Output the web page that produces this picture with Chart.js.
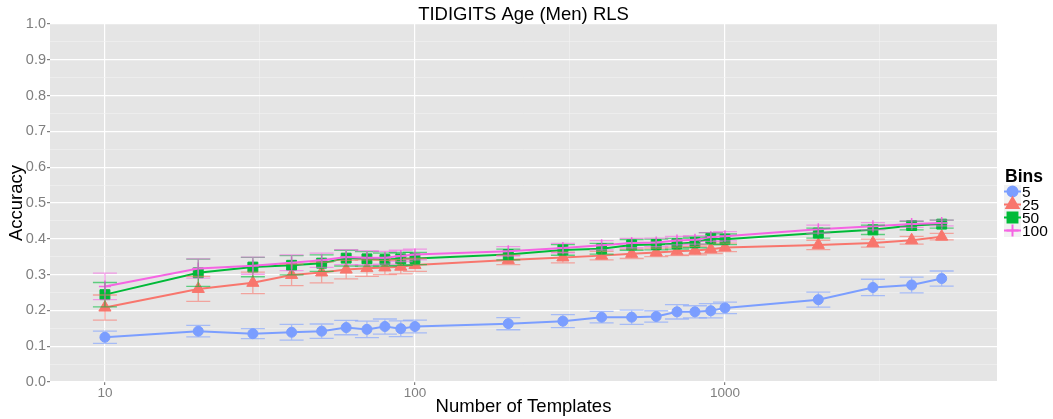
<!DOCTYPE html>
<html>
<head>
<meta charset="utf-8">
<script src="https://cdn.jsdelivr.net/npm/chart.js@4.4.1/dist/chart.umd.min.js"></script>
<style>
  html, body { margin: 0; padding: 0; background: #fff; }
  #wrap { width: 1053px; height: 419px; }
</style>
</head>
<body>
<div id="wrap"><canvas id="chart" width="1053" height="419"></canvas></div>
<script>
const templates = [10, 20, 30, 40, 50, 60, 70, 80, 90, 100, 200, 300, 400, 500, 600, 700, 800, 900, 1000, 2000, 3000, 4000, 5000];

const bins5 = [0.125, 0.142, 0.135, 0.139, 0.142, 0.152, 0.147, 0.155, 0.149, 0.155, 0.163, 0.170, 0.181, 0.181, 0.183, 0.196, 0.196, 0.199, 0.207, 0.230, 0.264, 0.271, 0.289];
const err5  = [0.017, 0.016, 0.014, 0.022, 0.020, 0.020, 0.023, 0.021, 0.022, 0.018, 0.017, 0.018, 0.016, 0.020, 0.016, 0.020, 0.017, 0.020, 0.016, 0.021, 0.023, 0.022, 0.021];

const bins25 = [0.208, 0.260, 0.277, 0.299, 0.306, 0.314, 0.318, 0.320, 0.322, 0.327, 0.341, 0.348, 0.353, 0.358, 0.362, 0.365, 0.367, 0.371, 0.376, 0.383, 0.388, 0.396, 0.406];
const err25  = [0.035, 0.035, 0.030, 0.030, 0.029, 0.026, 0.023, 0.020, 0.020, 0.018, 0.013, 0.015, 0.012, 0.013, 0.012, 0.012, 0.012, 0.012, 0.012, 0.013, 0.011, 0.011, 0.009];

const bins50 = [0.244, 0.305, 0.321, 0.326, 0.332, 0.346, 0.344, 0.342, 0.344, 0.345, 0.356, 0.369, 0.372, 0.383, 0.384, 0.386, 0.390, 0.401, 0.399, 0.416, 0.425, 0.437, 0.441];
const err50  = [0.034, 0.038, 0.027, 0.027, 0.023, 0.022, 0.020, 0.018, 0.018, 0.017, 0.015, 0.015, 0.015, 0.015, 0.015, 0.015, 0.015, 0.016, 0.015, 0.014, 0.013, 0.012, 0.011];

const bins100 = [0.267, 0.317, 0.325, 0.333, 0.340, 0.349, 0.347, 0.347, 0.352, 0.356, 0.365, 0.374, 0.382, 0.388, 0.390, 0.395, 0.397, 0.405, 0.407, 0.427, 0.435, 0.441, 0.444];
const err100  = [0.037, 0.027, 0.024, 0.022, 0.020, 0.021, 0.020, 0.018, 0.016, 0.015, 0.013, 0.013, 0.013, 0.013, 0.012, 0.012, 0.012, 0.012, 0.013, 0.011, 0.010, 0.009, 0.008];

const binLabels = ['5', '25', '50', '100'];
const xMajorTicks = [10, 100, 1000];
const xMinorTicks = [31.62, 316.2, 3162];
const yTickValues = [0, 0.05, 0.1, 0.15, 0.2, 0.25, 0.3, 0.35, 0.4, 0.45, 0.5, 0.55, 0.6, 0.65, 0.7, 0.75, 0.8, 0.85, 0.9, 0.95, 1.0];

const FONT = "'Liberation Sans', Arial, Helvetica, sans-serif";
const colors = ['#7B9EFF', '#F8766D', '#00BA38', '#F564E3'];
const shapes = ['circle', 'triangle', 'rect', 'cross'];
const radii = [5, 7, 7, 6];
const series = [bins5, bins25, bins50, bins100];
const errors = [err5, err25, err50, err100];

function withAlpha(hex, a) {
  const n = parseInt(hex.slice(1), 16);
  return `rgba(${n >> 16}, ${(n >> 8) & 255}, ${n & 255}, ${a})`;
}

const isMajorY = v => Math.round(v * 20) % 2 === 0;
const isMajorX = v => xMajorTicks.includes(v);

// grey panel behind the grid
const panelBg = {
  id: 'panelBg',
  beforeDraw(chart) {
    const { ctx, chartArea: a } = chart;
    ctx.save();
    ctx.fillStyle = '#E5E5E5';
    ctx.fillRect(a.left, a.top, a.right - a.left, a.bottom - a.top);
    ctx.restore();
  }
};

// vertical error bars with caps
const errorBars = {
  id: 'errorBars',
  afterDatasetsDraw(chart) {
    const { ctx } = chart;
    const xs = chart.scales.x, ys = chart.scales.y;
    ctx.save();
    ctx.lineWidth = 1.3;
    series.forEach((vals, s) => {
      ctx.strokeStyle = withAlpha(colors[s], 0.6);
      vals.forEach((v, i) => {
        const x = xs.getPixelForValue(templates[i]);
        const y1 = ys.getPixelForValue(v - errors[s][i]);
        const y2 = ys.getPixelForValue(v + errors[s][i]);
        ctx.beginPath();
        ctx.moveTo(x, y1); ctx.lineTo(x, y2);
        ctx.moveTo(x - 12, y1); ctx.lineTo(x + 12, y1);
        ctx.moveTo(x - 12, y2); ctx.lineTo(x + 12, y2);
        ctx.stroke();
      });
    });
    ctx.restore();
  }
};

// ggplot-like legend on the right
const binsLegend = {
  id: 'binsLegend',
  afterDraw(chart) {
    const { ctx } = chart;
    ctx.save();
    ctx.fillStyle = '#000';
    ctx.font = `bold 17.5px ${FONT}`;
    ctx.textBaseline = 'alphabetic';
    ctx.textAlign = 'left';
    ctx.fillText('Bins', 1005, 182);
    const keyCenters = [191.5, 204.5, 217.5, 230.5];
    binLabels.forEach((lab, i) => {
      const cy = keyCenters[i];
      ctx.fillStyle = '#F2F2F2';
      ctx.fillRect(1004, cy - 6.5, 17, 13);
      ctx.strokeStyle = colors[i];
      ctx.lineWidth = 2;
      ctx.beginPath();
      ctx.moveTo(1004, cy); ctx.lineTo(1021, cy);
      ctx.stroke();
      ctx.fillStyle = colors[i];
      ctx.strokeStyle = colors[i];
      Chart.helpers.drawPoint(ctx, {
        pointStyle: shapes[i], radius: radii[i], borderWidth: shapes[i] === 'cross' ? 1.5 : 1
      }, 1012.5, cy);
      ctx.fillStyle = '#000';
      ctx.font = `15.5px ${FONT}`;
      ctx.textBaseline = 'middle';
      ctx.fillText(lab, 1022, cy + 1);
    });
    ctx.restore();
  }
};

const datasets = series.map((vals, s) => ({
  label: binLabels[s],
  data: templates.map((t, i) => ({ x: t, y: vals[i] })),
  borderColor: colors[s],
  backgroundColor: colors[s],
  pointBackgroundColor: colors[s],
  pointBorderColor: colors[s],
  pointStyle: shapes[s],
  pointRadius: radii[s],
  pointHoverRadius: radii[s],
  pointBorderWidth: shapes[s] === 'cross' ? 1.5 : 1,
  borderWidth: 2,
  tension: 0,
  fill: false,
  order: 4 - s
}));

new Chart(document.getElementById('chart'), {
  type: 'line',
  data: { datasets },
  plugins: [panelBg, errorBars, binsLegend],
  options: {
    responsive: false,
    animation: false,
    devicePixelRatio: 1,
    layout: { padding: { left: 0, right: 56, top: 0, bottom: 0 } },
    plugins: {
      legend: { display: false },
      tooltip: { enabled: false },
      title: {
        display: true,
        text: 'TIDIGITS Age (Men) RLS',
        color: '#000',
        fullSize: false,
        font: { family: FONT, size: 18.5, weight: 'normal', lineHeight: 1 },
        padding: { top: 5.5, bottom: 0 }
      }
    },
    scales: {
      x: {
        type: 'logarithmic',
        min: 6.65,
        max: 7540,
        afterBuildTicks(scale) {
          scale.ticks = xMajorTicks.concat(xMinorTicks).sort((a, b) => a - b).map(v => ({ value: v }));
        },
        afterFit(scale) { scale.height = 37; },
        border: { display: false },
        grid: {
          color: c => isMajorX(c.tick.value) ? '#FFFFFF' : '#F2F2F2',
          lineWidth: c => isMajorX(c.tick.value) ? 1.2 : 0.6,
          tickColor: c => isMajorX(c.tick.value) ? '#7F7F7F' : 'rgba(0,0,0,0)',
          tickLength: 3
        },
        ticks: {
          autoSkip: false,
          maxRotation: 0,
          color: '#7F7F7F',
          padding: 0,
          font: { family: FONT, size: 13.5 },
          callback: v => isMajorX(v) ? String(v) : ''
        },
        title: {
          display: true,
          text: 'Number of Templates',
          color: '#000',
          font: { family: FONT, size: 18.5 },
          padding: { top: 0, bottom: 1 }
        }
      },
      y: {
        min: 0,
        max: 1,
        afterBuildTicks(scale) {
          scale.ticks = yTickValues.map(v => ({ value: v }));
        },
        afterFit(scale) { scale.width = 50; },
        border: { display: false },
        grid: {
          color: c => isMajorY(c.tick.value) ? '#FFFFFF' : '#F2F2F2',
          lineWidth: c => isMajorY(c.tick.value) ? 1.2 : 0.6,
          tickColor: c => isMajorY(c.tick.value) ? '#7F7F7F' : 'rgba(0,0,0,0)',
          tickLength: 3
        },
        ticks: {
          autoSkip: false,
          color: '#7F7F7F',
          padding: 1,
          font: { family: FONT, size: 14.5 },
          callback: v => isMajorY(v) ? v.toFixed(1) : ''
        },
        title: {
          display: true,
          text: 'Accuracy',
          color: '#000',
          font: { family: FONT, size: 18.5 },
          padding: { top: 6, bottom: 0 }
        }
      }
    }
  }
});
</script>
</body>
</html>
